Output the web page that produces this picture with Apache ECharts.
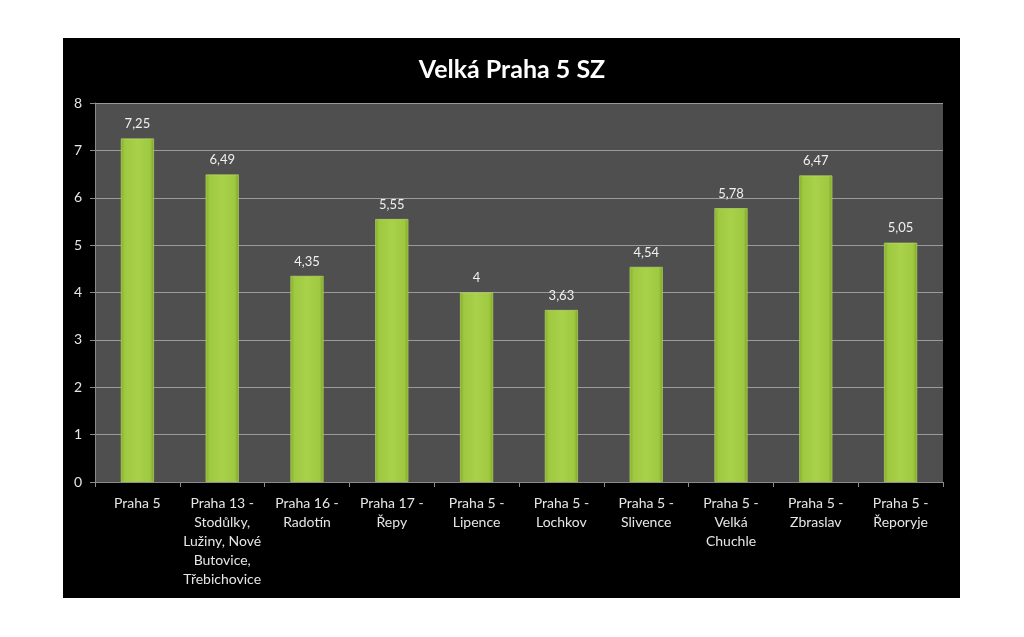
<!DOCTYPE html>
<html>
<head>
<meta charset="utf-8">
<script src="https://cdn.jsdelivr.net/npm/echarts@6/dist/echarts.min.js"></script>
<style>
  html, body { margin: 0; padding: 0; background: #fff; }
  #frame { position: absolute; left: 63px; top: 38px; width: 897px; height: 560px; background: #000; }
  #chart { position: absolute; left: 0; top: 0; width: 1024px; height: 637px; }
</style>
</head>
<body>
<div id="frame"></div>
<div id="chart"></div>
<script>
// data
const titleText = 'Velká Praha 5 SZ'
const categories = [
  'Praha 5',
  'Praha 13 -\nStodůlky,\nLužiny, Nové\nButovice,\nTřebichovice',
  'Praha 16 -\nRadotín',
  'Praha 17 -\nŘepy',
  'Praha 5 -\nLipence',
  'Praha 5 -\nLochkov',
  'Praha 5 -\nSlivence',
  'Praha 5 -\nVelká\nChuchle',
  'Praha 5 -\nZbraslav',
  'Praha 5 -\nŘeporyje'
]
const values = [7.25, 6.49, 4.35, 5.55, 4, 3.63, 4.54, 5.78, 6.47, 5.05]

const font = 'Lato, "Open Sans", sans-serif'
const chart = echarts.init(document.getElementById('chart'))

// zelený sloupec s lehkým "3D" přechodem
const barColor = new echarts.graphic.LinearGradient(0, 0, 1, 0, [
  { offset: 0, color: '#86ad2c' },
  { offset: 0.12, color: '#9fc940' },
  { offset: 0.5, color: '#a9d14b' },
  { offset: 0.88, color: '#9fc940' },
  { offset: 1, color: '#7ea428' }
])

chart.setOption({
  backgroundColor: 'transparent',
  animation: false,
  title: {
    text: titleText,
    left: 'center',
    top: 52,
    textStyle: { color: '#fff', fontSize: 25, fontWeight: 'bold', fontFamily: font }
  },
  grid: {
    left: 95, right: 81, top: 103, bottom: 155,
    show: true, backgroundColor: '#4f4f4f', borderWidth: 0
  },
  xAxis: {
    type: 'category',
    data: categories,
    axisLine: { lineStyle: { color: '#8a8a8a', width: 1 } },
    axisTick: { show: true, length: 5, lineStyle: { color: '#8a8a8a' } },
    axisLabel: {
      color: '#e6e6e6', fontSize: 14, fontFamily: font, lineHeight: 19,
      interval: 0, margin: 12
    }
  },
  yAxis: {
    type: 'value',
    min: 0, max: 8, interval: 1,
    axisLine: { show: true, lineStyle: { color: '#8a8a8a' } },
    axisTick: { show: true, length: 5, lineStyle: { color: '#8a8a8a' } },
    axisLabel: { color: '#e6e6e6', fontSize: 14, fontFamily: font, margin: 13 },
    splitLine: { lineStyle: { color: '#9a9a9a', width: 1 } }
  },
  series: [{
    type: 'bar',
    data: values,
    barWidth: '39%',
    itemStyle: { color: barColor, borderColor: '#bfe06a', borderWidth: 0.6 },
    label: {
      show: true, position: 'top', distance: 8,
      color: '#f0f0f0', fontSize: 13, fontFamily: font,
      formatter: p => String(p.value).replace('.', ',')
    }
  }]
})
</script>
</body>
</html>
